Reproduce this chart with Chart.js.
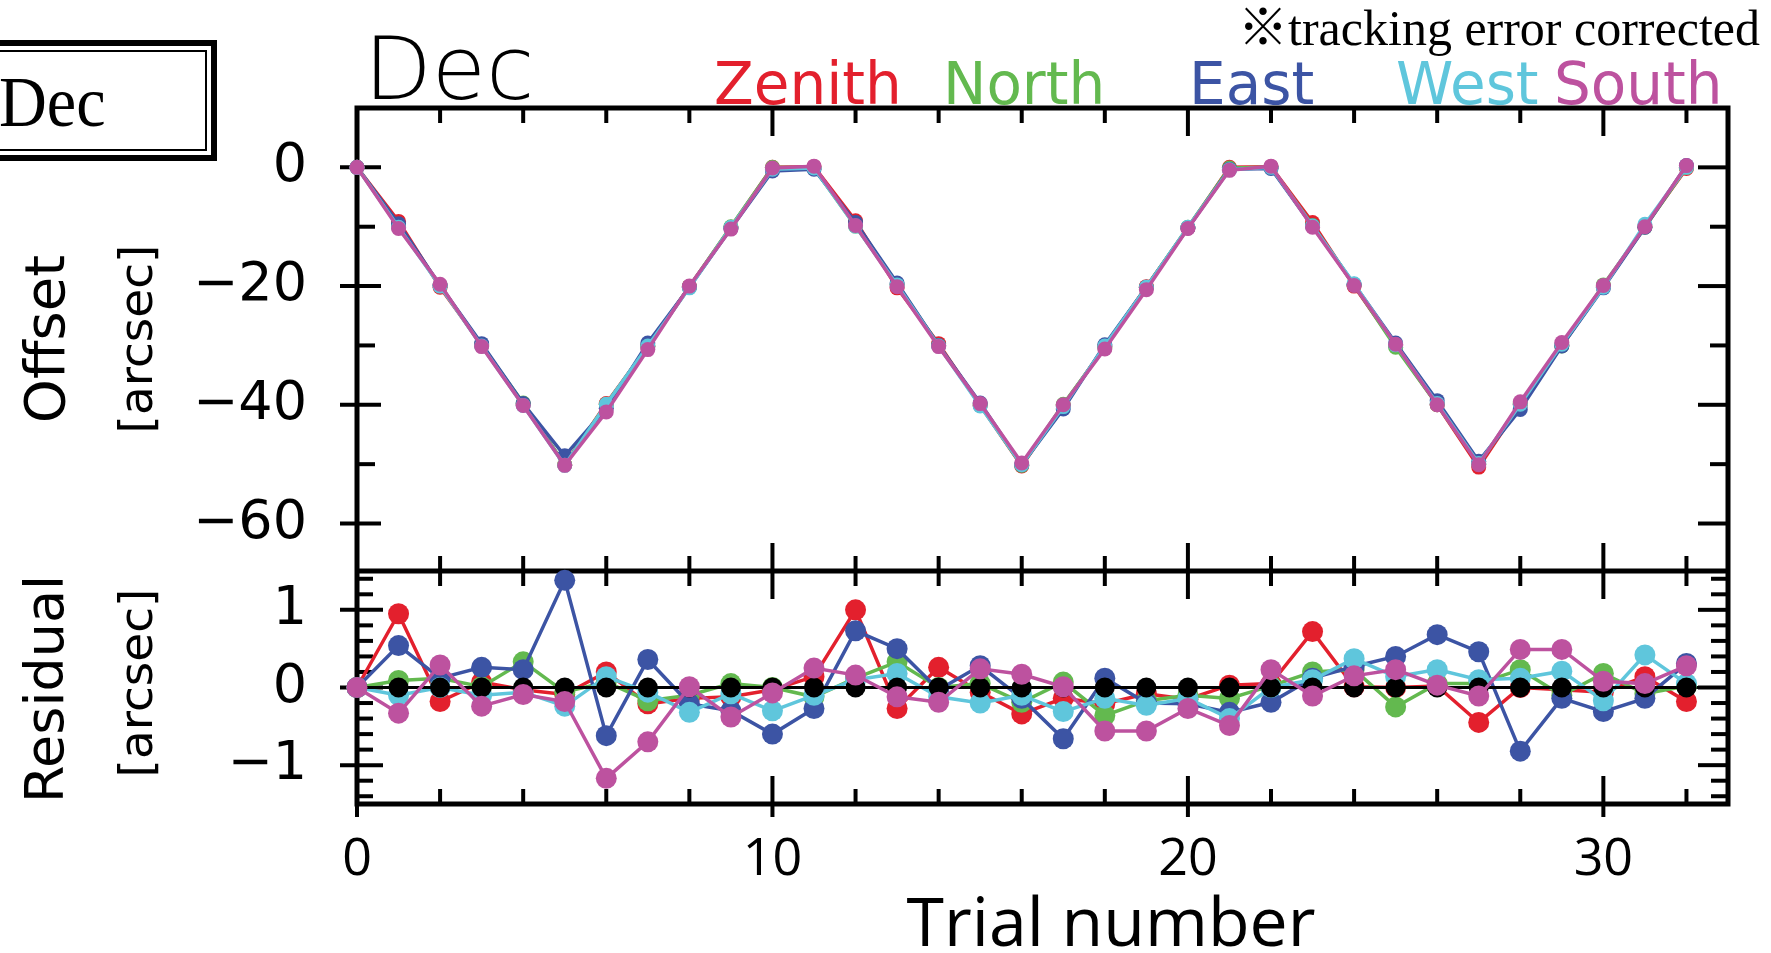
<!DOCTYPE html>
<html>
<head>
<meta charset="utf-8">
<title>Dec offset and residual</title>
<script src="https://cdn.jsdelivr.net/npm/chart.js@4.4.1/dist/chart.umd.min.js"></script>
<style>
    html, body { margin: 0; padding: 0; background: #fff; }
    #wrap { position: relative; width: 1771px; height: 953px; overflow: hidden; }
    #chart { position: absolute; left: 0; top: 0; }
    .txt { position: absolute; white-space: nowrap; line-height: 1; }
    #dec-box {
        position: absolute; left: -12px; top: 40px; width: 229px; height: 121px;
        box-sizing: border-box; border: 6px solid #000;
        box-shadow: inset 0 0 0 4px #fff, inset 0 0 0 6px #000;
    }
    .serif { font-family: "Liberation Serif", "Noto Sans CJK JP", serif; }
    .sans { font-family: "DejaVu Sans", sans-serif; }
    .legend { font-size: 58px; top: 55px; }
    .ylab { transform: translate(-50%, -50%) rotate(-90deg); }
</style>
</head>
<body>
<div id="wrap">
    <canvas id="chart" width="1771" height="953"></canvas>

    <div id="dec-box"></div>
    <div class="txt serif" style="left:-1px; top:66px; font-size:72px; transform-origin:0 0; transform:scaleX(0.92);">Dec</div>
    <div class="txt serif" style="right:11px; top:3px; font-size:50px;">※tracking error corrected</div>

    <div class="txt sans" style="left:364px; top:25px; font-size:88px; font-weight:200;">Dec</div>
    <div class="txt sans legend" style="left:714px; color:#e3202d;">Zenith</div>
    <div class="txt sans legend" style="left:943px; color:#63b94f;">North</div>
    <div class="txt sans legend" style="left:1189px; color:#3c54a4;">East</div>
    <div class="txt sans legend" style="left:1396px; color:#5fc6dc;">West</div>
    <div class="txt sans legend" style="left:1554px; color:#bd529f;">South</div>

    <div class="txt sans ylab" style="left:45px; top:339px; font-size:56px;">Offset</div>
    <div class="txt sans ylab" style="left:135px; top:339px; font-size:47px;">[arcsec]</div>
    <div class="txt sans ylab" style="left:45px; top:689px; font-size:54px;">Residual</div>
    <div class="txt sans ylab" style="left:135px; top:683px; font-size:47px;">[arcsec]</div>

    <div class="txt" style="left:1111px; top:886px; font-size:68px; font-family:'Open Sans', sans-serif; transform:translateX(-50%);">Trial number</div>
</div>

<script>
// Trial numbers (x axis)
const trials = [0, 1, 2, 3, 4, 5, 6, 7, 8, 9, 10, 11, 12, 13, 14, 15, 16,
    17, 18, 19, 20, 21, 22, 23, 24, 25, 26, 27, 28, 29, 30, 31, 32];

// Measured Dec offsets [arcsec], top panel
const offsetZenith = [0, -9.1, -20.2, -29.9, -40, -50.1, -39.8, -30.2, -20.1, -10.1, 0, 0.1, -9, -20.3, -29.7, -40.1, -50.3,
    -40.1, -30.2, -20.1, -10.2, 0, 0.1, -9.3, -20, -30, -40, -50.5, -40, -30, -20.1, -9.9, -0.2];
const offsetNorth = [0, -9.9, -19.9, -30, -39.7, -50.1, -39.9, -30.2, -20.1, -10, 0, -0.1, -9.9, -19.7, -30, -40, -50.2,
    -39.9, -30.4, -20.2, -10.1, -0.1, 0, -9.8, -19.8, -30.3, -40, -50, -39.8, -30.1, -19.8, -10.1, 0];
const offsetEast = [0, -9.5, -19.9, -29.7, -39.8, -48.6, -40.6, -29.6, -20.2, -10.3, -0.6, -0.3, -9.3, -19.5, -30, -39.7, -50.1,
    -40.7, -29.9, -20.2, -10.2, -0.3, -0.2, -9.9, -19.7, -29.6, -39.3, -49.5, -40.8, -30.1, -20.3, -10.1, 0.3];
const offsetWest = [0, -10.1, -20, -30.1, -40.1, -50.2, -39.9, -30.1, -20.3, -10.1, -0.3, -0.1, -9.9, -19.8, -30.1, -40.2, -50.1,
    -40.3, -30.1, -20.2, -10.1, -0.4, 0, -9.9, -19.6, -29.9, -39.8, -49.9, -39.9, -29.8, -20.2, -9.6, 0];
const offsetSouth = [0, -10.3, -19.7, -30.2, -40.1, -50.2, -41.2, -30.7, -20, -10.4, -0.1, 0.2, -9.8, -20.1, -30.2, -39.8, -49.8,
    -40, -30.6, -20.6, -10.3, -0.5, 0.2, -10.1, -19.9, -29.8, -40, -50.1, -39.5, -29.5, -19.9, -10, 0.3];

// Residuals [arcsec], bottom panel
const residZenith = [0, 0.95, -0.18, 0.07, -0.03, -0.09, 0.2, -0.21, -0.14, -0.12, -0.03, 0.14, 1.0, -0.27, 0.26, -0.06, -0.34,
    -0.14, -0.21, -0.08, -0.15, 0.03, 0.05, 0.72, 0.01, 0, 0.02, -0.45, 0, -0.03, -0.06, 0.14, -0.18];
const residNorth = [0, 0.09, 0.12, 0.01, 0.33, -0.06, 0.07, -0.17, -0.1, 0.05, 0, -0.12, 0.12, 0.33, 0, 0.05, -0.19,
    0.07, -0.36, -0.17, -0.1, -0.14, 0.02, 0.2, 0.23, -0.25, 0.05, 0.05, 0.23, -0.1, 0.18, -0.08, 0.02];
const residEast = [0, 0.54, 0.12, 0.26, 0.23, 1.38, -0.62, 0.36, -0.21, -0.3, -0.6, -0.27, 0.73, 0.5, -0.03, 0.28, -0.14,
    -0.66, 0.12, -0.2, -0.21, -0.32, -0.19, 0.12, 0.27, 0.4, 0.68, 0.46, -0.82, -0.14, -0.31, -0.14, 0.31];
const residWest = [0, -0.1, 0, -0.1, -0.06, -0.24, 0.14, -0.06, -0.32, -0.08, -0.3, -0.1, 0.1, 0.18, -0.12, -0.2, -0.1,
    -0.31, -0.14, -0.23, -0.14, -0.4, 0, 0.1, 0.37, 0.14, 0.23, 0.1, 0.12, 0.21, -0.17, 0.42, 0.05];
const residSouth = [0, -0.33, 0.29, -0.24, -0.09, -0.18, -1.17, -0.7, 0.01, -0.38, -0.07, 0.25, 0.16, -0.12, -0.19, 0.24, 0.17,
    0.01, -0.56, -0.56, -0.27, -0.49, 0.23, -0.11, 0.15, 0.23, 0.03, -0.11, 0.49, 0.49, 0.08, 0.05, 0.28];
const residRef = [0, 0, 0, 0, 0, 0, 0, 0, 0, 0, 0, 0, 0, 0, 0, 0, 0,
    0, 0, 0, 0, 0, 0, 0, 0, 0, 0, 0, 0, 0, 0, 0, 0];

// Tick labels
const trialTicks = [0, 10, 20, 30];
const offsetTicks = [0, -20, -40, -60];
const residTicks = [1, 0, -1];

const colors = {
    zenith: '#e3202d',
    north: '#63b94f',
    east: '#3c54a4',
    west: '#5fc6dc',
    south: '#bd529f',
    ref: '#000000'
};

function series(label, ys, color, axis, radius, width, order) {
    return {
        label: label,
        data: trials.map((t, i) => ({ x: t, y: ys[i] })),
        yAxisID: axis,
        borderColor: color,
        backgroundColor: color,
        pointBackgroundColor: color,
        pointBorderWidth: 0,
        pointRadius: radius,
        borderWidth: width,
        tension: 0,
        fill: false,
        clip: false,
        order: order
    };
}

function minusLabel(v) {
    return v < 0 ? '\u2212' + Math.abs(v) : String(v);
}

function seg(ctx, x1, y1, x2, y2) {
    ctx.beginPath();
    ctx.moveTo(x1, y1);
    ctx.lineTo(x2, y2);
    ctx.stroke();
}

// Frame, separator, zero line and IDL-style ticks
const framePlugin = {
    id: 'frame',
    beforeDatasetsDraw(chart) {
        const { ctx, chartArea: a, scales } = chart;
        const x = scales.x, yt = scales.yTop, yb = scales.yBot;
        const sep = yt.bottom;

        ctx.save();
        ctx.strokeStyle = '#000';
        ctx.lineCap = 'butt';

        // zero line of the residual panel
        ctx.lineWidth = 3;
        const y0 = yb.getPixelForValue(0);
        seg(ctx, a.left, y0, a.right, y0);

        ctx.lineWidth = 4;
        // horizontal axes
        for (let v = 0; v <= 32; v += 2) {
            const px = x.getPixelForValue(v);
            const major = v % 10 === 0;
            const L = major ? 28 : 15;
            if (v > 0) {
                seg(ctx, px, a.top, px, a.top + L);
                seg(ctx, px, sep, px, sep - L);
                seg(ctx, px, sep, px, sep + L);
            }
            seg(ctx, px, a.bottom + (major ? 13 : 0), px, a.bottom - L);
        }

        // offset panel, left and right
        for (let v = -60; v <= 0; v += 10) {
            const py = yt.getPixelForValue(v);
            const major = v % 20 === 0;
            if (major) {
                seg(ctx, a.left - 17, py, a.left + 24, py);
                seg(ctx, a.right, py, a.right - 30, py);
            } else {
                seg(ctx, a.left, py, a.left + 18, py);
                seg(ctx, a.right, py, a.right - 18, py);
            }
        }

        // residual panel, left and right
        for (let k = -7; k <= 7; k++) {
            const py = yb.getPixelForValue(k / 5);
            const major = k % 5 === 0;
            if (major) {
                seg(ctx, a.left - 17, py, a.left + 26, py);
                seg(ctx, a.right, py, a.right - 30, py);
            } else {
                seg(ctx, a.left, py, a.left + 16, py);
                seg(ctx, a.right, py, a.right - 17, py);
            }
        }

        // box and separator
        ctx.lineWidth = 5;
        ctx.strokeRect(a.left, a.top, a.right - a.left, a.bottom - a.top);
        seg(ctx, a.left, sep, a.right, sep);
        ctx.restore();
    }
};

const tickFont = { family: '"DejaVu Sans", sans-serif', size: 54 };

new Chart(document.getElementById('chart'), {
    type: 'line',
    data: {
        datasets: [
            series('South', offsetSouth, colors.south, 'yTop', 7.5, 3.5, 0),
            series('West', offsetWest, colors.west, 'yTop', 7.5, 3.5, 2),
            series('East', offsetEast, colors.east, 'yTop', 7.5, 3.5, 3),
            series('North', offsetNorth, colors.north, 'yTop', 7.5, 3.5, 4),
            series('Zenith', offsetZenith, colors.zenith, 'yTop', 7.5, 3.5, 5),
            series('South', residSouth, colors.south, 'yBot', 10.5, 3.5, 0),
            series('Reference', residRef, colors.ref, 'yBot', 10, 3, 1),
            series('West', residWest, colors.west, 'yBot', 10.5, 3.5, 2),
            series('East', residEast, colors.east, 'yBot', 10.5, 3.5, 3),
            series('North', residNorth, colors.north, 'yBot', 10.5, 3.5, 4),
            series('Zenith', residZenith, colors.zenith, 'yBot', 10.5, 3.5, 5)
        ]
    },
    options: {
        responsive: false,
        devicePixelRatio: 1,
        animation: false,
        layout: { padding: { left: 0, top: 108, right: 43, bottom: 0 } },
        plugins: {
            legend: { display: false },
            tooltip: { enabled: false }
        },
        scales: {
            x: {
                type: 'linear',
                min: 0,
                max: 33,
                grid: { display: false, drawTicks: false },
                border: { display: false },
                afterBuildTicks: s => { s.ticks = trialTicks.map(v => ({ value: v })); },
                afterFit: s => { s.height = 149; },
                ticks: {
                    font: { family: '"Open Sans", sans-serif', size: 52 },
                    color: '#000',
                    padding: 25,
                    maxRotation: 0,
                    autoSkip: false
                }
            },
            yBot: {
                type: 'linear',
                position: 'left',
                stack: 'panels',
                stackWeight: 233,
                min: -1.5,
                max: 1.5,
                grid: { display: false, drawTicks: false },
                border: { display: false },
                afterBuildTicks: s => { s.ticks = residTicks.map(v => ({ value: v })); },
                afterFit: s => { s.width = 357; },
                ticks: { font: tickFont, color: '#000', padding: 50, callback: minusLabel }
            },
            yTop: {
                type: 'linear',
                position: 'left',
                stack: 'panels',
                stackWeight: 463,
                min: -68,
                max: 10,
                grid: { display: false, drawTicks: false },
                border: { display: false },
                afterBuildTicks: s => { s.ticks = offsetTicks.map(v => ({ value: v })); },
                afterFit: s => { s.width = 357; },
                ticks: { font: tickFont, color: '#000', padding: 50, callback: minusLabel }
            }
        }
    },
    plugins: [framePlugin]
});
</script>
</body>
</html>
